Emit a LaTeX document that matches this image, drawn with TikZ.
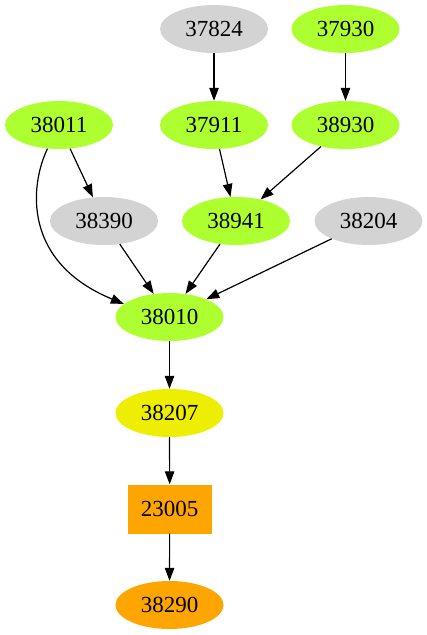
\documentclass[tikz,border=0pt]{standalone}
\usepackage{fontspec}
\setmainfont{Liberation Serif}
\usetikzlibrary{shapes.geometric,arrows.meta}
\definecolor{gy}{HTML}{ADFF2F}
\definecolor{lg}{HTML}{D3D3D3}
\definecolor{ye}{HTML}{EEEE00}
\definecolor{orn}{HTML}{FFA500}
\begin{document}
\begin{tikzpicture}[x=1pt,y=-1pt,
  nd/.style={ellipse,minimum width=108pt,minimum height=48pt,inner sep=0pt,font=\fontsize{23}{27}\selectfont},
  rc/.style={rectangle,minimum width=84pt,minimum height=49pt,inner sep=0pt,font=\fontsize{23}{27}\selectfont},
  ar/.style={-{Triangle[length=13pt,width=9.5pt]},line width=1.2pt}]
\useasboundingbox (0,0) rectangle (427,635);
\node[nd,fill=lg] (n37824) at (214,29) {37824};
\node[nd,fill=gy] (n37930) at (345.5,29) {37930};
\node[nd,fill=gy] (n38011) at (59,125) {38011};
\node[nd,fill=gy] (n37911) at (214,125) {37911};
\node[nd,fill=gy] (n38930) at (345.5,125) {38930};
\node[nd,fill=lg] (n38390) at (104,221) {38390};
\node[nd,fill=gy] (n38941) at (236,221) {38941};
\node[nd,fill=lg] (n38204) at (368.5,221) {38204};
\node[nd,fill=gy] (n38010) at (169.5,317) {38010};
\node[nd,fill=ye] (n38207) at (169.5,413) {38207};
\node[rc,fill=orn] (n23005) at (169.7,509) {23005};
\node[nd,fill=orn] (n38290) at (169.5,605) {38290};
\draw[ar] (n37824) -- (n37911);
\draw[ar] (n37930) -- (n38930);
\draw[ar] (n38011) -- (n38390);
\draw[ar] (n37911) -- (n38941);
\draw[ar] (n38930) -- (n38941);
\draw[ar] (n38390) -- (n38010);
\draw[ar] (n38941) -- (n38010);
\draw[ar] (n38204) -- (n38010);
\draw[ar] (n38011.-116) .. controls (30,185) and (22,262) .. (n38010.164);
\draw[ar] (n38010) -- (n38207);
\draw[ar] (n38207) -- (n23005);
\draw[ar] (n23005) -- (n38290);
\end{tikzpicture}
\end{document}
